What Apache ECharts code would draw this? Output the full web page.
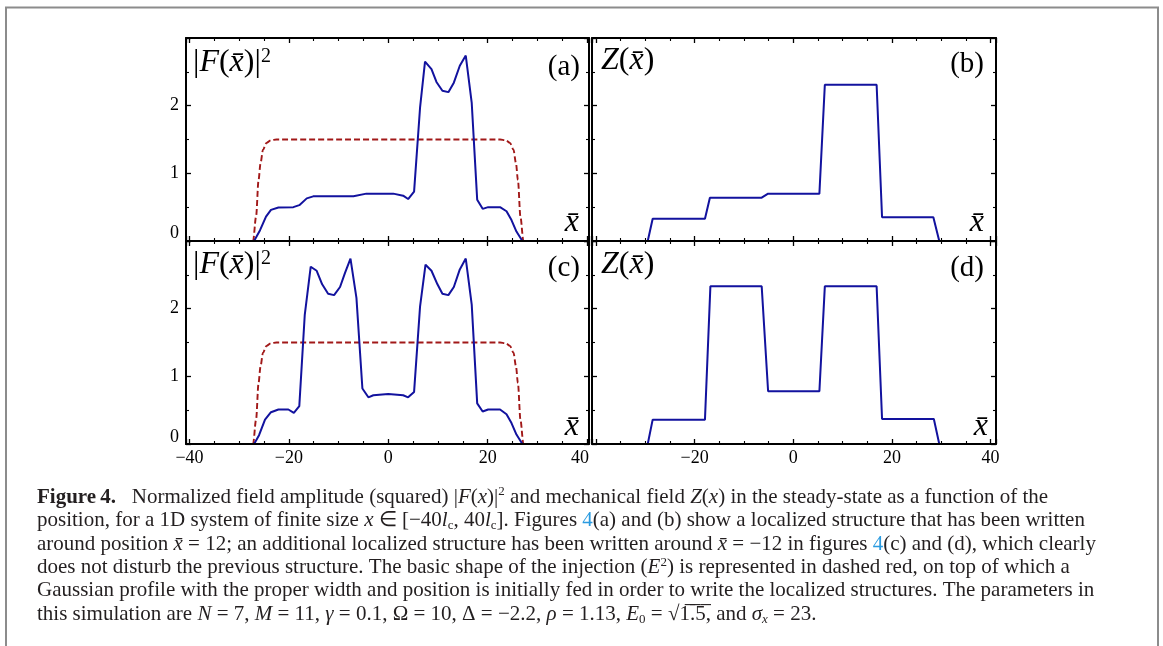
<!DOCTYPE html>
<html>
<head>
<meta charset="utf-8">
<script src="https://cdn.jsdelivr.net/npm/echarts@6/dist/echarts.min.js"></script>
<style>
html, body { margin: 0; padding: 0; background: #fff; }
#fig { width: 1163px; height: 646px; }
</style>
</head>
<body>
<div id="fig"></div>
<script>
// injection E^2 (dashed red), same in (a) and (c)
let injX = [-40, -27.2, -26.6, -26.1, -25.7, -25.2, -24.5, -23.6, -22.5, 22.5, 23.6, 24.5, 25.2, 25.7, 26.1, 26.6, 27.2, 40];
let injY = [0, 0, 0.36, 0.9, 1.15, 1.35, 1.45, 1.49, 1.5, 1.5, 1.49, 1.45, 1.35, 1.15, 0.9, 0.36, 0, 0];

// (a) |F|^2, one structure around x = 12
let fieldAX = [-40, -27.0, -25.8, -24.6, -23.6, -22.1, -19.1, -17.9, -16.4, -15.1, -7.0, -4.4, 1.0, 3.0, 4.0, 5.2, 6.4, 7.4, 8.7, 9.7, 10.9, 12.1, 13.2, 14.4, 15.6, 16.8, 17.9, 19.0, 20.1, 22.5, 23.8, 24.8, 25.8, 27.0, 40];
let fieldAY = [0, 0, 0.16, 0.36, 0.46, 0.495, 0.5, 0.53, 0.63, 0.66, 0.66, 0.70, 0.70, 0.67, 0.62, 0.73, 1.97, 2.65, 2.54, 2.35, 2.22, 2.20, 2.34, 2.59, 2.74, 2.04, 0.61, 0.475, 0.50, 0.50, 0.44, 0.31, 0.14, 0, 0];

// (b) Z, one structure
let mechBX = [-40, -29.5, -28.5, -17.9, -16.9, -6.4, -5.1, 5.3, 6.4, 16.9, 18.0, 28.4, 29.6, 40];
let mechBY = [0, 0, 0.33, 0.33, 0.64, 0.64, 0.70, 0.70, 2.31, 2.31, 0.35, 0.35, 0, 0];

// (c) |F|^2, two structures
let fieldCX = [-40, -27.0, -26.0, -24.8, -23.6, -22.1, -20.1, -19.0, -17.9, -16.8, -15.6, -14.4, -13.3, -12.1, -10.9, -9.7, -8.7, -7.6, -6.4, -5.2, -4.0, -3.0, 0, 3.0, 4.0, 5.2, 6.4, 7.5, 8.7, 9.9, 10.9, 12.1, 13.2, 14.4, 15.6, 16.8, 17.9, 19.0, 20.1, 22.5, 23.8, 24.8, 25.8, 27.0, 40];
let fieldCY = [0, 0, 0.13, 0.36, 0.47, 0.51, 0.51, 0.46, 0.56, 1.91, 2.62, 2.56, 2.36, 2.22, 2.20, 2.32, 2.53, 2.74, 2.16, 0.82, 0.69, 0.72, 0.74, 0.72, 0.69, 0.77, 2.03, 2.65, 2.56, 2.36, 2.22, 2.20, 2.32, 2.58, 2.74, 2.06, 0.60, 0.48, 0.51, 0.51, 0.44, 0.31, 0.14, 0, 0];

// (d) Z, two structures
let mechDX = [-40, -29.5, -28.5, -17.9, -16.8, -6.4, -5.1, 5.3, 6.4, 16.9, 18.0, 28.5, 29.6, 40];
let mechDY = [0, 0, 0.36, 0.36, 2.33, 2.33, 0.78, 0.78, 2.33, 2.33, 0.37, 0.37, 0, 0];

let xTickLabels = [-40, -20, 0, 20, 40];
let yTickLabels = [0, 1, 2];

const serif = 'Liberation Serif';
const blue = '#12129e';
const red = '#a11818';

function zip(xs, ys) {
    return xs.map((x, i) => [x, ys[i]]);
}

let grids = [
    { left: 186, top: 38, width: 403, height: 203 },
    { left: 592, top: 38, width: 404, height: 203 },
    { left: 186, top: 241, width: 403, height: 203 },
    { left: 592, top: 241, width: 404, height: 203 }
];
let xRanges = [[-40.7, 40.4], [-40.8, 41.1], [-40.7, 40.4], [-40.8, 41.1]];

let xAxes = [];
let yAxes = [];
grids.forEach(function (g, i) {
    let frame = {
        axisLine: { onZero: false, lineStyle: { color: '#000', width: 2 } },
        axisTick: { inside: true, length: 5, lineStyle: { color: '#000', width: 1.3 } },
        splitLine: { show: false },
        z: 5
    };
    let bottomLabels = i >= 2;
    xAxes.push(Object.assign({
        gridIndex: i, type: 'value', position: 'bottom',
        min: xRanges[i][0], max: xRanges[i][1], splitNumber: 4,
        minorTick: { show: true, splitNumber: 4, length: 3, lineStyle: { color: '#000', width: 1.1 } },
        axisLabel: {
            show: bottomLabels, margin: 5, color: '#000', fontFamily: serif, fontSize: 18,
            formatter: function (v) {
                if (xTickLabels.indexOf(v) < 0) return '';
                if (i === 3 && v === -40) return '';
                if (i === 2 && v === 40) return '{r|40}';
                return String(v).replace('-', '\u2212');
            },
            rich: { r: { fontFamily: serif, fontSize: 18, color: '#000', padding: [0, 14, 0, 0] } }
        }
    }, frame));
    xAxes.push(Object.assign({
        gridIndex: i, type: 'value', position: 'top',
        min: xRanges[i][0], max: xRanges[i][1], splitNumber: 4,
        minorTick: { show: true, splitNumber: 4, length: 3, lineStyle: { color: '#000', width: 1.1 } },
        axisLabel: { show: false }
    }, frame));
    let leftLabels = i % 2 === 0;
    yAxes.push(Object.assign({
        gridIndex: i, type: 'value', position: 'left',
        min: 0, max: 3, interval: 1,
        minorTick: { show: true, splitNumber: 2, length: 3, lineStyle: { color: '#000', width: 1.1 } },
        axisLabel: {
            show: leftLabels, margin: 7, color: '#000', fontFamily: serif, fontSize: 18,
            formatter: function (v) {
                if (yTickLabels.indexOf(v) < 0) return '';
                if (v === 0) return i === 0 ? '{z|0}' : '{w|0}';
                return String(v);
            },
            rich: {
                z: { fontFamily: serif, fontSize: 18, color: '#000', padding: [0, 0, 16, 0] },
                w: { fontFamily: serif, fontSize: 18, color: '#000', padding: [0, 0, 14, 0] }
            }
        }
    }, frame));
    yAxes.push(Object.assign({
        gridIndex: i, type: 'value', position: 'right',
        min: 0, max: 3, interval: 1,
        minorTick: { show: true, splitNumber: 2, length: 3, lineStyle: { color: '#000', width: 1.1 } },
        axisLabel: { show: false }
    }, frame));
});

function curve(panel, xs, ys, color, dashed) {
    return {
        type: 'line',
        xAxisIndex: panel * 2,
        yAxisIndex: panel * 2,
        data: zip(xs, ys),
        symbol: 'none',
        smooth: dashed ? 0.3 : false,
        smoothMonotone: 'x',
        lineStyle: { color: color, width: dashed ? 1.9 : 2, type: dashed ? [6, 3] : 'solid' },
        z: 2
    };
}

// graphic texts are zrender styles: colour goes in fill
let panelLabel = {
    r: { fontFamily: serif, fontSize: 32, fill: '#000' },
    p: { fontFamily: serif, fontSize: 29, fill: '#000' },
    i: { fontFamily: serif, fontSize: 32, fontStyle: 'italic', fill: '#000' },
    s: { fontFamily: serif, fontSize: 20, fill: '#000', verticalAlign: 'top', lineHeight: 22 }
};
function tag(x, y, text, align) {
    return {
        type: 'text', x: x, y: y, z: 10,
        style: { text: text, rich: panelLabel, align: align || 'left', verticalAlign: 'middle' }
    };
}

const capColor = '#231f20';
let capStyle = {
    n: { fontFamily: serif, fontSize: 21, fill: capColor, lineHeight: 23.4 },
    b: { fontFamily: serif, fontSize: 21, fontWeight: 'bold', fill: capColor, lineHeight: 23.4 },
    i: { fontFamily: serif, fontSize: 21, fontStyle: 'italic', fill: capColor, lineHeight: 23.4 },
    lnk: { fontFamily: serif, fontSize: 21, fill: '#2b9be0', lineHeight: 23.4 },
    sup: { fontFamily: serif, fontSize: 13, fill: capColor, lineHeight: 15, verticalAlign: 'top' },
    sub: { fontFamily: serif, fontSize: 13, fill: capColor, lineHeight: 13, verticalAlign: 'bottom' },
    subi: { fontFamily: serif, fontSize: 13, fontStyle: 'italic', fill: capColor, lineHeight: 13, verticalAlign: 'bottom' }
};
let captionLines = [
    '{b|Figure\u20094.}{n|   Normalized field amplitude (squared) |}{i|F}{n|(}{i|x}{n|)|}{sup|2}{n| and mechanical field }{i|Z}{n|(}{i|x}{n|) in the steady-state as a function of the}',
    '{n|position, for a 1D system of finite size }{i|x}{n| \u2208 [\u221240}{i|l}{sub|c}{n|, 40}{i|l}{sub|c}{n|]. Figures }{lnk|4}{n|(a) and (b) show a localized structure that has been written}',
    '{n|around position }{i|x\u0304}{n| = 12; an additional localized structure has been written around }{i|x\u0304}{n| = \u221212 in figures }{lnk|4}{n|(c) and (d), which clearly}',
    '{n|does not disturb the previous structure. The basic shape of the injection (}{i|E}{sup|2}{n|) is represented in dashed red, on top of which a}',
    '{n|Gaussian profile with the proper width and position is initially fed in order to write the localized structures. The parameters in}',
    '{n|this simulation are }{i|N}{n| = 7, }{i|M}{n| = 11, }{i|\u03b3}{n| = 0.1, \u03a9 = 10, \u0394 = \u22122.2, }{i|\u03c1}{n| = 1.13, }{i|E}{sub|0}{n| = \u221a1\u0305.\u03055\u0305, and }{i|\u03c3}{subi|x}{n| = 23.}'
];

let option = {
    animation: false,
    backgroundColor: '#fff',
    grid: grids,
    xAxis: xAxes,
    yAxis: yAxes,
    series: [
        curve(0, injX, injY, red, true),
        curve(0, fieldAX, fieldAY, blue, false),
        curve(1, mechBX, mechBY, blue, false),
        curve(2, injX, injY, red, true),
        curve(2, fieldCX, fieldCY, blue, false),
        curve(3, mechDX, mechDY, blue, false)
    ],
    graphic: [
        {
            type: 'rect', z: 0, silent: true,
            shape: { x: 6, y: 7.5, width: 1152, height: 700 },
            style: { fill: 'none', stroke: '#8c8c8c', lineWidth: 2 }
        },
        tag(193, 63, '{r||}{i|F}{r|(}{i|x\u0304}{r|)|}{s|2}'),
        tag(580, 67, '{p|(a)}', 'right'),
        tag(579, 223, '{i|x\u0304}', 'right'),
        tag(601, 61, '{i|Z}{r|(}{i|x\u0304}{r|)}'),
        tag(984, 64, '{p|(b)}', 'right'),
        tag(984, 223, '{i|x\u0304}', 'right'),
        tag(193, 265, '{r||}{i|F}{r|(}{i|x\u0304}{r|)|}{s|2}'),
        tag(580, 268, '{p|(c)}', 'right'),
        tag(579, 427, '{i|x\u0304}', 'right'),
        tag(601, 265, '{i|Z}{r|(}{i|x\u0304}{r|)}'),
        tag(984, 268, '{p|(d)}', 'right'),
        tag(988, 427, '{i|x\u0304}', 'right'),
        {
            type: 'text', x: 37, y: 485.5, z: 10,
            style: { text: captionLines.join('\n'), rich: capStyle, align: 'left', verticalAlign: 'top' }
        }
    ]
};

let myChart = echarts.init(document.getElementById('fig'));
myChart.setOption(option);
</script>
</body>
</html>
